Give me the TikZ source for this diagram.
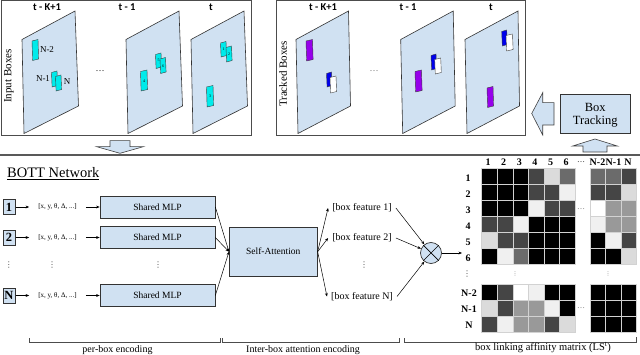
\documentclass[tikz,border=0pt]{standalone}
\usepackage{fontspec}
\setmainfont{Liberation Serif}
\newfontfamily\carl{Carlito}
\newfontfamily\djv{DejaVu Sans}
\usetikzlibrary{arrows.meta}
\newcommand\myfs[1]{\fontsize{#1}{#1}\selectfont}
\definecolor{lb}{RGB}{208,225,242}
\definecolor{cy}{RGB}{0,235,235}
\definecolor{pu}{RGB}{150,0,235}
\definecolor{bl}{RGB}{0,0,235}
\definecolor{cK}{gray}{0}
\definecolor{cD}{gray}{0.27}
\definecolor{cG}{gray}{0.42}
\definecolor{cM}{gray}{0.6}
\definecolor{cL}{gray}{0.86}
\definecolor{cW}{gray}{0.94}
\definecolor{cE}{gray}{1}
% slanted small box: x, ytop, w, h, style
\newcommand\skb[5]{\draw[#5] (#1,#2+1.5) -- (#1+#3,#2) -- (#1+#3+0.6,#2+#4-1.5) -- (#1+0.6,#2+#4) -- cycle;}
% frame: x0, dtr, dbr
\newcommand\frm[3]{\draw[frame] (#1,39.5) -- (#1+#2,11) -- (#1+#3,106) -- (#1+2,133.5) -- cycle;}
\tikzset{
  arr/.style={-{Stealth[length=3.5pt,width=2.8pt]}, line width=0.5pt},
  panel/.style={draw=black!70, line width=0.8pt},
  frame/.style={draw=black!80, fill=lb, line width=0.6pt},
  cyb/.style={draw=black!75, fill=cy, line width=0.4pt},
  pub/.style={draw=black!75, fill=pu, line width=0.4pt},
  blb/.style={draw=black!75, fill=bl, line width=0.4pt},
  whb/.style={draw=black!75, fill=white, line width=0.4pt},
  blockarrow/.style={draw=black!75, fill=lb, line width=0.6pt},
  lbbox/.style={draw=black!80, fill=lb, line width=0.7pt, inner sep=0pt},
  numbox/.style={lbbox, minimum width=12.3, minimum height=15, font=\myfs{12.5}\bfseries},
  mlp/.style={lbbox, minimum width=115, minimum height=22, font=\myfs{9.5}},
  xtxt/.style={font=\myfs{7}, inner xsep=9pt, inner ysep=0pt},
  feat/.style={font=\myfs{10}, inner xsep=4pt, inner ysep=0pt},
  tlab/.style={font=\carl\bfseries\myfs{10.5}, inner sep=0pt},
  blab/.style={font=\myfs{9}, inner sep=0pt},
  tiny4/.style={font=\myfs{4}, inner sep=0pt},
  mlab/.style={font=\myfs{10}\bfseries, inner sep=0pt},
  brk/.style={draw=black!70, line width=0.8pt},
  vd/.style={font=\djv\myfs{8}, text=black!70, inner sep=0pt},
  cellline/.style={draw=gray!35, line width=1pt},
}
\begin{document}
\begin{tikzpicture}[x=1pt,y=-1pt]
\useasboundingbox (0,0) rectangle (640,355);
% ---------- top panels
\draw[panel] (1,0.8) rectangle (251,135);
\draw[panel] (276,0.8) rectangle (525,135);
\node[rotate=90, font=\myfs{11}, inner sep=0pt] (ib) at (9,76) {Input Boxes};
\node[rotate=90, font=\myfs{11}, inner sep=0pt] (tb) at (283,74) {Tracked Boxes};
% frames left
\frm{22}{53}{56.5}
\frm{126}{53}{56.5}
\frm{191}{53}{56.5}
\node[tlab] (l1) at (47,7.5) {t - K+1};
\node[tlab] (l2) at (127,7.5) {t - 1};
\node[tlab] (l3) at (211,7.5) {t};
\node[font=\myfs{9}, inner sep=0pt] (d1) at (100,71) {\dots};
% boxes left
\skb{32}{39.5}{6}{21}{cyb}
\node[blab] (nm2) at (47,50) {N-2};
\skb{51.5}{71}{5.5}{16}{cyb}
\skb{55.5}{75}{5.5}{16}{cyb}
\node[blab] (nm1) at (43,79) {N-1};
\node[blab] (nn) at (67,82) {N};
\skb{140.5}{70}{6.5}{21}{cyb}
\node[tiny4] (b4) at (144,81) {4};
\skb{155.5}{53}{5.5}{15.5}{cyb}
\node[tiny4] (b5) at (158.5,60) {5};
\skb{160}{57.5}{5.5}{16}{cyb}
\node[tiny4] (b6) at (163,66) {6};
\skb{220.5}{41.5}{5.5}{15.5}{cyb}
\node[tiny4] (b1) at (223.5,49) {1};
\skb{226}{46}{5.5}{16}{cyb}
\node[tiny4] (b2) at (229,54) {2};
\skb{206.5}{85.5}{6.5}{21.5}{cyb}
\node[tiny4] (b3) at (210,96) {3};
% frames right
\frm{296}{52.5}{54.5}
\frm{400.7}{52.5}{54.5}
\frm{465}{53}{54.5}
\node[tlab] (r1) at (323,7.5) {t - K+1};
\node[tlab] (r2) at (408,7.5) {t - 1};
\node[tlab] (r3) at (491,7.5) {t};
\node[font=\myfs{9}, inner sep=0pt, text=black!60] (d2) at (374,71) {\dots};
% boxes right
\skb{306}{39.5}{6.5}{21.5}{pub}
\skb{326.5}{72}{5}{15}{blb}
\skb{330}{76}{6}{17}{whb}
\skb{415}{70}{6.5}{22}{pub}
\skb{431}{54}{5}{16}{blb}
\skb{434.7}{58}{6}{16}{whb}
\skb{501.7}{30}{5}{16}{blb}
\skb{506}{34}{6.5}{17}{whb}
\skb{487}{86.5}{6}{21}{pub}
% box tracking
\node[lbbox, minimum width=70.7, minimum height=39.3, align=center, font=\myfs{12.5}, text depth=0pt] (bt) at (595.3,113.7) {\baselineskip=15pt Box\\Tracking};
\draw[blockarrow] (531.7,113.5) -- (542.7,92.7) -- (542.7,102.7) -- (554,102.7) -- (554,125) -- (542.7,125) -- (542.7,135) -- cycle;
\draw[blockarrow] (595,139) -- (617.3,146) -- (607,146) -- (607,152) -- (583,152) -- (583,146) -- (572.7,146) -- cycle;
\draw[blockarrow] (110,140.7) -- (130,140.7) -- (130,146.7) -- (143.3,146.7) -- (120,153.3) -- (96.7,146.7) -- (110,146.7) -- cycle;
% separator
\draw[draw=black!65, line width=1.3pt] (0,155) -- (640,155);
% ---------- bottom
\node[font=\myfs{14.5}, inner sep=0pt, anchor=base west] (bn) at (7,177.5) {\underline{BOTT Network}};
\foreach \i/\t/\yy in {1/1/207, 2/2/237.5, 3/N/295.5}{
  \node[numbox] (n\i) at (9,\yy) {\t};
  \node[xtxt] (x\i) at (57.5,\yy) {[x, y, θ, Δ, ...]};
  \node[mlp] (m\i) at (157.5,\yy) {Shared MLP};
  \draw[arr] (n\i) -- (x\i);
  \draw[arr] (x\i) -- (m\i);
}
\node[vd] (v1) at (9,265) {⋮};
\node[vd] (v2) at (52,265) {⋮};
\node[vd] (v3) at (158,265) {⋮};
\node[lbbox, minimum width=88, minimum height=49, font=\myfs{9.5}] (sa) at (273.3,251.7) {Self-Attention};
\foreach \i in {1,2,3}{ \draw[arr] (m\i.east) -- (sa.west); }
\node[feat] (f1) at (362,208) {[box feature 1]};
\node[feat] (f2) at (362,238) {[box feature 2]};
\node[feat] (f3) at (362,296.5) {[box feature N]};
\node[vd] (v4) at (364,265) {⋮};
\foreach \i in {1,2,3}{ \draw[arr] (sa.east) -- (f\i.west); }
\node[circle, draw=black!80, fill=lb, line width=0.7pt, minimum size=21, inner sep=0pt] (ot) at (431,253) {};
\draw[line width=0.7pt] (ot.north west) -- (ot.south east) (ot.north east) -- (ot.south west);
\foreach \i in {1,2,3}{ \draw[arr] (f\i.east) -- (ot); }
\coordinate (mt) at (462,253);
\draw[arr] (ot) -- (mt);
% matrix
\foreach \rl [count=\r] in {
 {K,K,K,D,L,G,G,G,D},
 {K,K,K,D,D,W,D,D,L},
 {K,K,K,W,D,D,E,M,M},
 {D,D,W,K,K,K,W,M,M},
 {L,D,D,K,K,K,K,W,D},
 {K,W,G,K,K,K,K,K,L},
 {K,D,E,W,K,K,K,K,K},
 {L,D,M,M,W,K,K,K,K},
 {D,W,M,M,D,L,K,K,K}}{
  \foreach \c [count=\k] in \rl {
    \pgfmathsetmacro\cx{\k<7 ? 481.8+(\k-1)*15.6 : 590+(\k-7)*15.6}
    \pgfmathsetmacro\cyy{\r<7 ? 169+(\r-1)*16 : 285+(\r-7)*16}
    \fill[c\c] (\cx,\cyy) rectangle ++(15.6,16);
    \draw[cellline] (\cx,\cyy) rectangle ++(15.6,16);
  }
}
\foreach \t [count=\k] in {1,2,3,4,5,6}{
  \pgfmathsetmacro\cx{481.8+(\k-1)*15.6+6.3}
  \node[mlab] (c\k) at (\cx,162.5) {\t};
  \pgfmathsetmacro\cyy{169+(\k-1)*16+9}
  \node[mlab] (rr\k) at (468,\cyy) {\t};
}
\node[mlab, font=\myfs{8}] (cd) at (581,162) {\dots};
\node[mlab] (cn2) at (597.5,162.5) {N-2};
\node[mlab] (cn1) at (613.5,162.5) {N-1};
\node[mlab] (cn) at (628,162.5) {N};
\node[mlab] (rn2) at (469,293.5) {N-2};
\node[mlab] (rn1) at (469,309.5) {N-1};
\node[mlab] (rn) at (469,325.5) {N};
\node[vd] (v5) at (467,274.5) {⋮};
\node[vd, font=\djv\myfs{5}] (v6) at (515,273.5) {⋮};
\node[vd, font=\djv\myfs{5}] (v7) at (608,273.5) {⋮};
\node[font=\myfs{8}, text=black!60, inner sep=0pt] (h1) at (581,209.5) {\dots};
\node[font=\myfs{8}, text=black!60, inner sep=0pt] (h2) at (581,308.5) {\dots};
% brackets
\draw[brk] (29.3,338.3) -- (29.3,342.7) -- (220,342.7) -- (220,338.3);
\draw[brk] (222.7,338.3) -- (222.7,342.7) -- (399.3,342.7) -- (399.3,338.3);
\draw[brk] (404,338.3) -- (404,342.7) -- (636.7,342.7) -- (636.7,337);
\node[font=\myfs{10}, inner sep=0pt] (bl1) at (117.5,350.5) {per-box encoding};
\node[font=\myfs{10}, inner sep=0pt] (bl2) at (303,350) {Inter-box attention encoding};
\node[font=\myfs{10.5}, inner sep=0pt] (bl3) at (543,348) {box linking affinity matrix (LS\textsuperscript{t})};
\end{tikzpicture}
\end{document}
